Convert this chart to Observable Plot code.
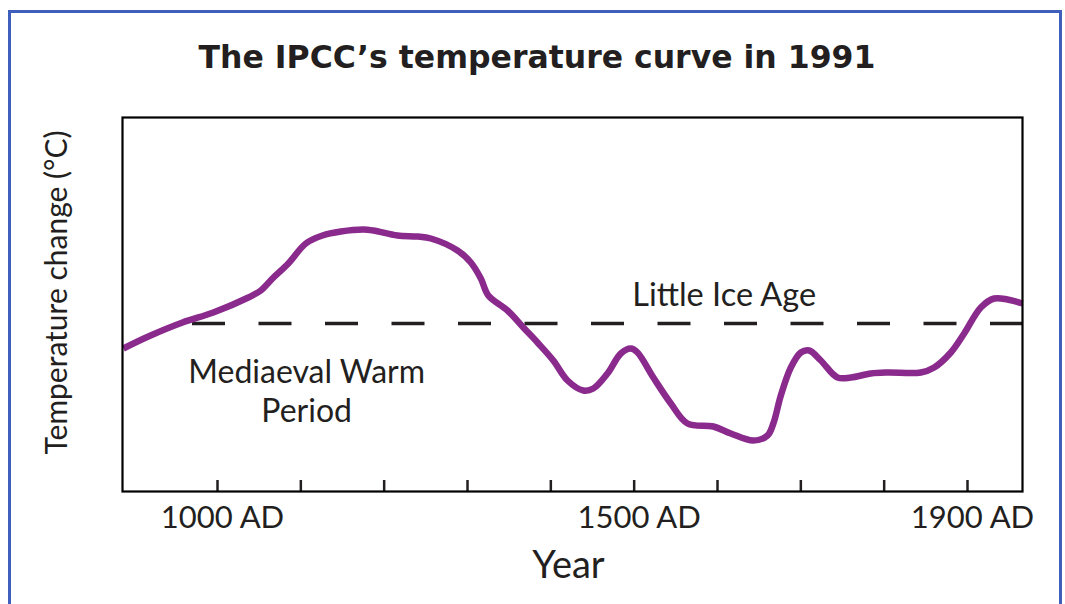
<!DOCTYPE html>
<html><head><meta charset="utf-8">
<script src="https://cdn.jsdelivr.net/npm/d3@7"></script>
<script src="https://cdn.jsdelivr.net/npm/@observablehq/plot@0.6"></script>
<style>
body{margin:0;background:#fff;width:1065px;height:604px;overflow:hidden;position:relative;font-family:Lato,sans-serif;}
#border{position:absolute;left:8px;top:10px;width:1054px;height:620px;border:3.5px solid #3f5fbd;border-bottom:none;box-sizing:border-box;}
#title{position:absolute;left:0;width:1074px;top:41.6px;text-align:center;font-family:"DejaVu Sans",sans-serif;font-weight:bold;font-size:31.5px;line-height:1;color:#231f20;white-space:nowrap;}
#chart{position:absolute;left:0;top:90px;}
</style></head><body>
<div id="border"></div>
<div id="title"></div>
<div id="chart"></div>
<script>
// Curve values (year AD, relative temperature change)
const years = [887, 917, 958, 995, 1037, 1052, 1066, 1085, 1106, 1126, 1148, 1175, 1187, 1216, 1240, 1256, 1288, 1304, 1316, 1325, 1348, 1367, 1384, 1403, 1420, 1439, 1451, 1468, 1484, 1496, 1504, 1523, 1544, 1564, 1595, 1616, 1643, 1660, 1667, 1676, 1688, 1700, 1710, 1724, 1744, 1760, 1784, 1804, 1844, 1860, 1880, 1896, 1916, 1932, 1948, 1966];
const temps = [-0.125, -0.065, 0.005, 0.055, 0.13, 0.165, 0.225, 0.30, 0.40, 0.44, 0.46, 0.47, 0.465, 0.44, 0.435, 0.425, 0.365, 0.305, 0.225, 0.14, 0.065, -0.02, -0.095, -0.185, -0.285, -0.335, -0.325, -0.25, -0.15, -0.125, -0.145, -0.27, -0.40, -0.50, -0.515, -0.55, -0.585, -0.56, -0.50, -0.36, -0.22, -0.145, -0.135, -0.185, -0.27, -0.27, -0.25, -0.245, -0.245, -0.22, -0.145, -0.05, 0.08, 0.125, 0.12, 0.10];

const tickYears = [1000, 1100, 1200, 1300, 1400, 1500, 1600, 1700, 1800, 1900];
const labelYears = [1000, 1500, 1900];
const xDomain = [886, 1966];
const yDomain = [-0.84, 1.03];
const referenceLevel = [0];
const dashStartYear = 970;

const annotationTexts = ["Little Ice Age", "Mediaeval Warm\nPeriod"];
const annotationYears = [1608, 1107];
const annotationTemps = [0.09, -0.163];

const titleText = "The IPCC’s temperature curve in 1991";
const xLabel = "Year";
const yLabel = "Temperature change (°C)";

document.getElementById("title").textContent = titleText;

const curve = years.map((yr, i) => ({year: yr, t: temps[i]}));
const ink = "#231f20";
const purple = "#8a2a8d";

const chart = Plot.plot({
  width: 1065,
  height: 514,
  marginLeft: 122,
  marginRight: 43,
  marginTop: 27,
  marginBottom: 113,
  style: {background: "transparent", fontFamily: "Lato, sans-serif", color: ink, overflow: "visible"},
  x: {domain: xDomain},
  y: {domain: yDomain, axis: null},
  marks: [
    Plot.axisX({ticks: tickYears, tickSize: -11, tickFormat: () => "", strokeWidth: 2.5, stroke: ink, label: null}),
    Plot.axisX({ticks: labelYears, tickSize: 0, tickPadding: 14, tickFormat: d => `${d} AD`, fontSize: 31, dx: 5, fill: ink, label: null}),
    Plot.ruleY(referenceLevel, {x1: dashStartYear, x2: xDomain[1], stroke: ink, strokeWidth: 3.5, strokeDasharray: "33,33.5"}),
    Plot.line(curve, {x: "year", y: "t", stroke: purple, strokeWidth: 6.5, curve: "catmull-rom", strokeLinecap: "butt"}),
    Plot.frame({stroke: "#000", strokeWidth: 2.2}),
    Plot.text([0], {x: annotationYears[0], y: annotationTemps[0], text: [annotationTexts[0]], fontSize: 32.5, lineAnchor: "bottom", fill: ink}),
    Plot.text([0], {x: annotationYears[1], y: annotationTemps[1], text: [annotationTexts[1]], fontSize: 32, lineAnchor: "top", lineHeight: 1.2, fill: ink}),
    Plot.text([xLabel], {frameAnchor: "bottom", lineAnchor: "top", dy: 60, dx: -4, fontSize: 38, fill: ink}),
    Plot.text([yLabel], {frameAnchor: "left", rotate: -90, textAnchor: "middle", lineAnchor: "middle", dx: -65, dy: -12, fontSize: 30, fill: ink})
  ]
});
document.getElementById("chart").appendChild(chart);
</script>
</body></html>
